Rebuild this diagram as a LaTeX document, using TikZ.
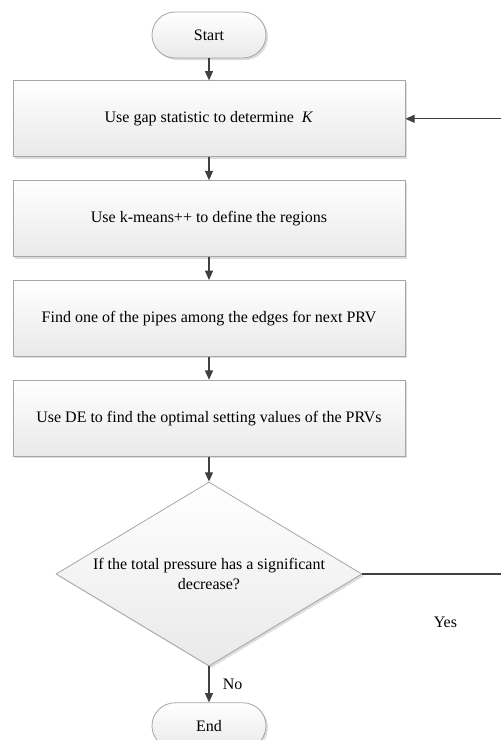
\documentclass[tikz,border=0pt]{standalone}
\usepackage{fontspec}
\setmainfont{Liberation Serif}
\usepackage{tikz}
\usetikzlibrary{positioning, arrows.meta, shapes.geometric, calc, shadows}
\usepackage{xcolor}
\definecolor{boxline}{HTML}{A6A6A6}
\definecolor{boxfill}{HTML}{E9E9E9}
\definecolor{arrowline}{HTML}{404040}
\definecolor{shadowgray}{HTML}{DCDCDC}

\begin{document}
\begin{tikzpicture}[
    node distance=17.25pt,
    font=\fontsize{12}{14.5}\selectfont,
    box/.style={rectangle, draw=boxline, line width=0.6pt, top color=white, bottom color=boxfill,
        drop shadow={shadow xshift=1.5pt, shadow yshift=-1.5pt, fill=shadowgray, opacity=1},
        minimum width=294pt, minimum height=57pt, align=center},
    term/.style={box, rounded corners=17.25pt, minimum width=85.5pt, minimum height=34.5pt},
    decision/.style={box, diamond, aspect=1.663, minimum width=229.5pt, minimum height=138pt, inner sep=0pt},
    arrow/.style={-{Triangle[length=7pt, width=6pt]}, draw=arrowline, line width=1pt},
    line/.style={draw=arrowline, line width=1pt}
]
\useasboundingbox (-156.75pt,26.25pt) rectangle (219pt,-528.75pt);

\node[term] (start) at (0,0) {Start};
\node[box, below=16.5pt of start] (gap) {Use gap statistic to determine \ \textit{K}};
\node[box, below=of gap] (kmeans) {Use k-means++ to define the regions};
\node[box, below=of kmeans] (pipe) {Find one of the pipes among the edges for next PRV};
\node[box, below=of pipe] (de) {Use DE to find the optimal setting values of the PRVs};
\node[decision, below=18.75pt of de] (dec) {If the total pressure has a significant\\decrease?};
\node[term, below=27pt of dec] (end) {End};

% loop back on the right, cut by the page edge
\coordinate (edge) at (219pt,0);
\coordinate (yesout) at (dec.east -| edge);
\coordinate (yesin) at (gap.east -| edge);
\node (yes) at ($(dec.east)+(62.25pt,-36pt)$) {Yes};

\draw[arrow] (start) -- (gap);
\draw[arrow] (gap) -- (kmeans);
\draw[arrow] (kmeans) -- (pipe);
\draw[arrow] (pipe) -- (de);
\draw[arrow] (de) -- (dec);
\draw[arrow] (dec) -- node[right=6.5pt] {No} (end);
\draw[line] (dec.east) -- (yesout);
\draw[arrow] (yesin) -- (gap.east);
\end{tikzpicture}
\end{document}
